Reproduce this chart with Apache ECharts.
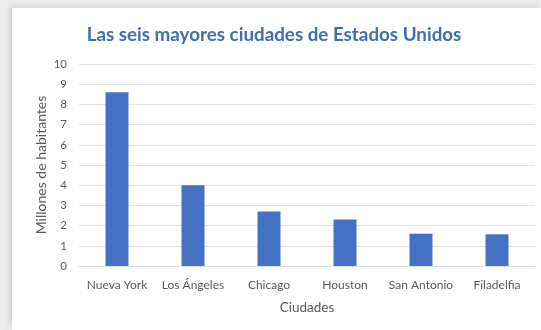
<!DOCTYPE html>
<html>
<head>
<meta charset="utf-8">
<script src="https://cdn.jsdelivr.net/npm/echarts@6/dist/echarts.min.js"></script>
<style>
  html, body { margin: 0; padding: 0; width: 541px; height: 330px; overflow: hidden; background: #ececec; }
  #card { position: absolute; left: 12px; top: 8px; width: 529px; height: 322px; background: #fff;
          box-shadow: -3px -2px 6px rgba(0,0,0,0.10); }
  #chart { position: absolute; left: -12px; top: -8px; width: 541px; height: 330px; }
</style>
</head>
<body>
<div id="card"><div id="chart"></div></div>
<script>
// Población de las seis mayores ciudades (millones de habitantes)
const ciudades = ['Nueva York', 'Los Ángeles', 'Chicago', 'Houston', 'San Antonio', 'Filadelfia'];
const poblacion = [8.6, 4.0, 2.7, 2.3, 1.6, 1.57];
const titulo = 'Las seis mayores ciudades de Estados Unidos';
const nombreX = 'Ciudades';
const nombreY = 'Millones de habitantes';

const fuente = 'Lato, "Open Sans", sans-serif';
const grisTexto = '#595959';

const chart = echarts.init(document.getElementById('chart'), null, { renderer: 'canvas' });
chart.setOption({
  animation: false,
  title: {
    text: titulo,
    left: 269,
    top: 20,
    textAlign: 'center',
    textStyle: { fontFamily: fuente, fontSize: 18.8, fontWeight: 'bold', color: '#3e70ad' }
  },
  grid: { left: 79, right: 6, top: 64, bottom: 64 },
  xAxis: {
    type: 'category',
    data: ciudades,
    name: nombreX,
    nameLocation: 'middle',
    nameGap: 35,
    nameMoveOverlap: false,
    nameTextStyle: { fontFamily: fuente, fontSize: 13.5, color: grisTexto },
    axisLine: { show: true, lineStyle: { color: '#dedede' } },
    axisTick: { show: false },
    axisLabel: { interval: 0, fontFamily: fuente, fontSize: 12, color: grisTexto, margin: 13 }
  },
  yAxis: {
    type: 'value',
    min: 0,
    max: 10,
    interval: 1,
    name: nombreY,
    nameLocation: 'middle',
    nameGap: 31,
    nameMoveOverlap: false,
    nameTextStyle: { fontFamily: fuente, fontSize: 14, color: grisTexto },
    axisLine: { show: false },
    axisTick: { show: false },
    axisLabel: { fontFamily: fuente, fontSize: 11.5, color: grisTexto, margin: 12 },
    splitLine: { lineStyle: { color: '#e3e3e3', width: 1 } }
  },
  series: [{
    type: 'bar',
    data: poblacion,
    barWidth: 23,
    itemStyle: { color: '#4472c4' }
  }]
});
</script>
</body>
</html>
